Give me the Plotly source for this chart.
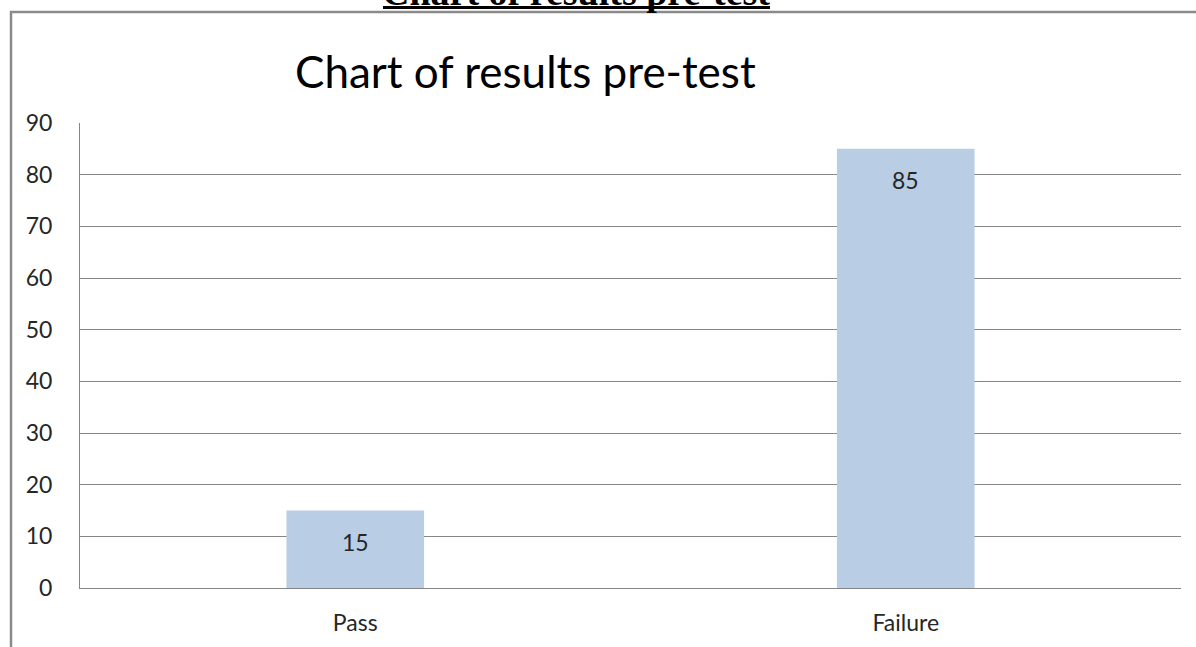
import plotly.graph_objects as go

# ---- data ----
categories = ["Pass", "Failure"]
values = [15, 85]
y_ticks = [0, 10, 20, 30, 40, 50, 60, 70, 80, 90]
chart_title = "Chart of results pre-test"
page_heading = "Chart of results pre-test"

W, H = 1196, 647
L, R, T, B = 80, 15, 123, 59
PW = W - L - R
PH = H - T - B


def px_x(px):
    return (px - L) / PW


def px_y(py):
    return (H - B - py) / PH


BAR = "#B9CDE5"
GRID = "#868686"
TXT = "#262626"
FONT = "Lato, 'Noto Sans', sans-serif"

fig = go.Figure()
fig.add_trace(go.Bar(x=categories, y=values, marker=dict(color=BAR, line=dict(width=0)),
                     hoverinfo="skip"))

annotations = []
for c, v in zip(categories, values):
    annotations.append(dict(x=c, y=v, xref="x", yref="y", text=str(v), showarrow=False,
                            yanchor="top", yshift=-15,
                            font=dict(family=FONT, size=23, color=TXT)))

# chart title
annotations.append(dict(x=px_x(525), y=px_y(99), xref="paper", yref="paper",
                        text=chart_title, showarrow=False, xanchor="center", yanchor="bottom",
                        font=dict(family=FONT, size=44, color="#000000")))
# clipped page heading above the chart frame
annotations.append(dict(x=px_x(576), y=px_y(15), xref="paper", yref="paper",
                        text="<b>" + page_heading + "</b>", showarrow=False,
                        xanchor="center", yanchor="bottom",
                        font=dict(family="'Liberation Serif', serif", size=38, color="#000000")))

shapes = [
    # outer frame (top and left edges)
    dict(type="line", xref="paper", yref="paper", x0=px_x(10), x1=px_x(1210),
         y0=px_y(12), y1=px_y(12), line=dict(color="#8a8a8a", width=2.5)),
    dict(type="line", xref="paper", yref="paper", x0=px_x(11), x1=px_x(11),
         y0=px_y(11), y1=px_y(660), line=dict(color="#8a8a8a", width=2.5)),
    # heading underline
    dict(type="line", xref="paper", yref="paper", x0=px_x(383), x1=px_x(770),
         y0=px_y(7.5), y1=px_y(7.5), line=dict(color="#000000", width=3)),
]

fig.update_layout(
    width=W, height=H,
    margin=dict(l=L, r=R, t=T, b=B, pad=0),
    paper_bgcolor="white", plot_bgcolor="white",
    bargap=0.75,
    showlegend=False,
    annotations=annotations,
    shapes=shapes,
    xaxis=dict(showline=True, linecolor=GRID, linewidth=1, showgrid=False, ticks="",
               tickfont=dict(family=FONT, size=23, color=TXT), ticklabelstandoff=14,
               fixedrange=True),
    yaxis=dict(range=[0, 90], tickvals=y_ticks, showline=True, linecolor=GRID, linewidth=1,
               showgrid=True, gridcolor=GRID, gridwidth=1, zeroline=False, ticks="",
               tickfont=dict(family=FONT, size=23, color=TXT), ticklabelstandoff=22,
               fixedrange=True),
)

fig.write_html("out.html", config={"displayModeBar": False},
               post_script="document.body.style.margin='0';document.body.style.overflow='hidden';")
